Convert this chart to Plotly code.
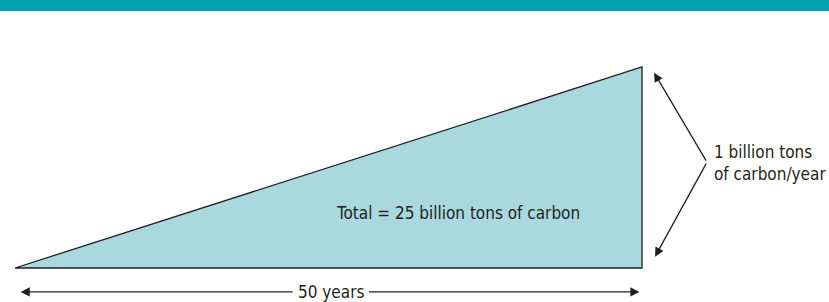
import plotly.graph_objects as go

# Data (years, billion tons of carbon per year)
wedge_years = [0, 50, 50, 0]
wedge_rate = [0, 0, 1, 0]
total_label = "Total = 25 billion tons of carbon"
rate_label = "1 billion tons<br>of carbon/year"
span_label = "50 years"

FONT = "Liberation Sans Narrow, DejaVu Sans Condensed, Roboto, sans-serif"
TXT = "#231f20"

fig = go.Figure()
fig.add_trace(go.Scatter(
    x=wedge_years, y=wedge_rate, mode="lines", fill="toself",
    fillcolor="#a9d9df", line=dict(color="#231f20", width=1.3),
    hoverinfo="skip", showlegend=False,
))

px_x = 627 / 50
px_y = 201
x0 = -15 / px_x
x1 = (829 - 15) / px_x
y1 = 1 + 67 / px_y
y0 = -(302 - 268) / px_y

annots = []
# total label
annots.append(dict(x=25.4, y=0.275, text=total_label, showarrow=False,
                   xanchor="left", yanchor="middle",
                   font=dict(family=FONT, size=17, color=TXT)))
# span label
annots.append(dict(x=25.2, y=-0.119, text=span_label, showarrow=False,
                   xanchor="center", yanchor="middle",
                   font=dict(family=FONT, size=17, color=TXT)))
# bottom arrows
for tip, start in [(0.45, 22.25), (49.8, 28.1)]:
    annots.append(dict(x=tip, y=-0.119, ax=start, ay=-0.119,
                       xref="x", yref="y", axref="x", ayref="y",
                       text="", showarrow=True, arrowhead=2, arrowsize=1.4,
                       arrowwidth=1.3, arrowcolor=TXT))
# chevron arrows
vx, vy = 55.18, 0.527
for tx, ty in [(50.96, 0.972), (51.04, 0.056)]:
    annots.append(dict(x=tx, y=ty, ax=vx, ay=vy,
                       xref="x", yref="y", axref="x", ayref="y",
                       text="", showarrow=True, arrowhead=2, arrowsize=1.4,
                       arrowwidth=1.3, arrowcolor=TXT))
# rate label
annots.append(dict(x=55.55, y=0.52, text=rate_label, showarrow=False,
                   xanchor="left", yanchor="middle", align="left",
                   font=dict(family=FONT, size=17, color=TXT)))

fig.update_layout(
    width=829, height=302,
    margin=dict(l=0, r=0, t=0, b=0),
    paper_bgcolor="white", plot_bgcolor="white",
    xaxis=dict(range=[x0, x1], visible=False, fixedrange=True),
    yaxis=dict(range=[y0, y1], visible=False, fixedrange=True),
    annotations=annots,
    shapes=[dict(type="rect", xref="paper", yref="paper", x0=0, x1=1,
                 y0=1 - 11 / 302, y1=1, fillcolor="#00a1b0", line=dict(width=0),
                 layer="above")],
)

fig.write_html("out.html", config={"displayModeBar": False},
               post_script="document.body.style.margin='0';document.body.style.overflow='hidden';")
